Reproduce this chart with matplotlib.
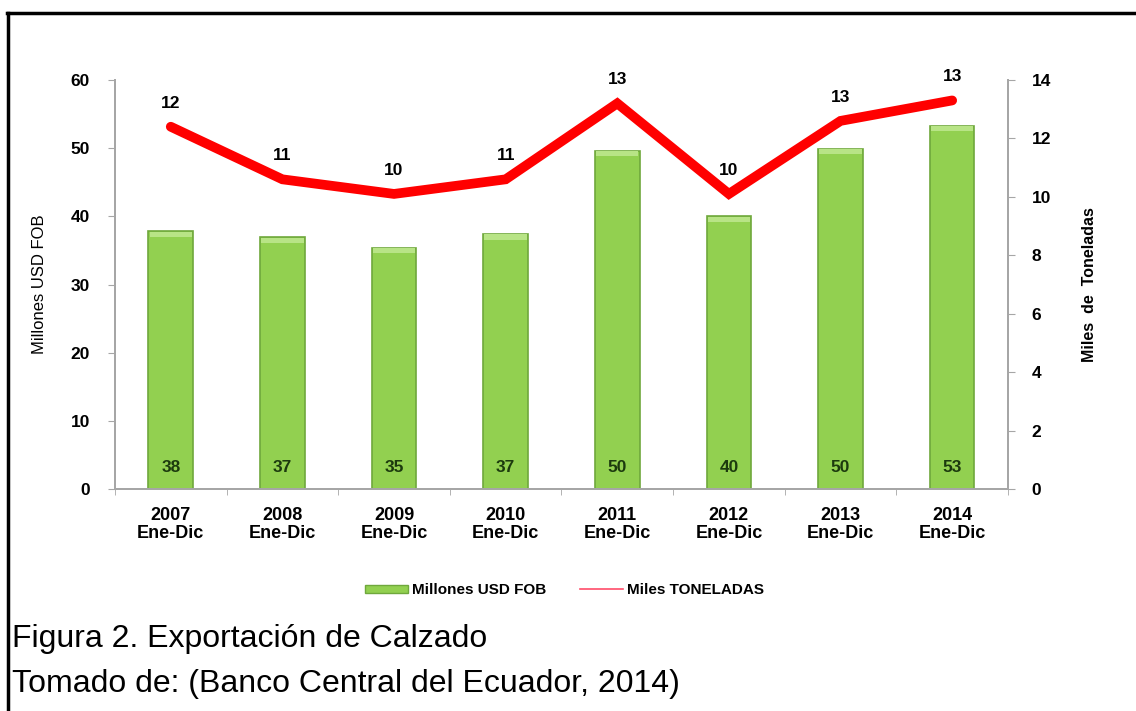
import matplotlib
matplotlib.use("Agg")
import matplotlib.pyplot as plt
from matplotlib.lines import Line2D
from matplotlib.patches import Patch
import numpy as np

plt.rcParams['font.family'] = ['Liberation Sans', 'DejaVu Sans']

# Data
years = ["2007", "2008", "2009", "2010", "2011", "2012", "2013", "2014"]
period = "Ene-Dic"
millones_usd_fob = [37.8, 36.9, 35.4, 37.4, 49.6, 40.0, 49.9, 53.3]
miles_toneladas = [12.4, 10.6, 10.1, 10.6, 13.2, 10.1, 12.6, 13.3]

fig = plt.figure(figsize=(11.36, 7.11), dpi=100)
fig.patch.set_facecolor("white")

ax = fig.add_axes([0.1012, 0.3122, 0.7861, 0.5753])
ax2 = ax.twinx()

x = np.arange(len(years))
grey = "#a6a6a6"

# Bars (left axis)
ax.bar(x, millones_usd_fob, width=0.40, color="#92d050",
       edgecolor="#6fa83c", linewidth=1.2, zorder=2)
for xi, v in zip(x, millones_usd_fob):
    # bevel highlight at the top of each bar
    ax.add_patch(plt.Rectangle((xi - 0.19, v - 0.8), 0.38, 0.75,
                               facecolor="#b8e486", edgecolor="none", zorder=3))
    ax.text(xi, 3.1, f"{v:.0f}", ha="center", va="center",
            fontsize=12.5, fontweight="bold", color="#1c3a0e", zorder=4)

ax.set_xlim(-0.5, len(years) - 0.5)
ax.set_ylim(0, 60)
ax.set_yticks(range(0, 61, 10))
ax.set_xticks(x)
ax.set_xticklabels([f"{y}\n{period}" for y in years], fontsize=13,
                   fontweight="bold", linespacing=1.1)
ax.set_xticks(np.arange(-0.5, len(years), 1.0), minor=True)
ax.tick_params(axis="x", which="major", length=0, pad=13)
ax.tick_params(axis="x", which="minor", length=4, color=grey, direction="out")
ax.tick_params(axis="y", length=5, color=grey, labelsize=12.5, pad=13)
for lbl in ax.get_yticklabels():
    lbl.set_fontweight("bold")
ax.set_ylabel("Millones USD FOB", fontsize=12, labelpad=17)

# Line (right axis)
ax2.plot(x, miles_toneladas, color="#ff0000", linewidth=7,
         solid_capstyle="round", solid_joinstyle="miter", zorder=5)
for xi, v in zip(x, miles_toneladas):
    ax2.annotate(f"{v:.0f}", (xi, v), xytext=(0, 17), textcoords="offset points",
                 ha="center", va="center", fontsize=12.5, fontweight="bold")
ax2.set_ylim(0, 14)
ax2.set_yticks(range(0, 15, 2))
ax2.tick_params(axis="y", length=5, color=grey, labelsize=12.5, pad=12)
for lbl in ax2.get_yticklabels():
    lbl.set_fontweight("bold")
ax2.set_ylabel("Miles  de  Toneladas", fontsize=11.5, fontweight="bold",
               labelpad=22)

for a in (ax, ax2):
    a.spines["top"].set_visible(False)
    for s in ("left", "right", "bottom"):
        a.spines[s].set_color(grey)
        a.spines[s].set_linewidth(1.3)

# Legend
handles = [Patch(facecolor="#92d050", edgecolor="#6fa83c"),
           Line2D([0], [0], color="#ff4d6a", linewidth=1.2)]
fig.legend(handles, ["Millones USD FOB", "Miles TONELADAS"],
           loc="center", bbox_to_anchor=(0.497, 0.170), ncol=2, frameon=False,
           prop={"size": 11, "weight": "bold"}, handlelength=2.8,
           handleheight=0.4, columnspacing=2.2, handletextpad=0.3)

# Frame lines and caption
fig.add_artist(Line2D([0.0070, 0.0070], [0.0, 0.9817], color="black",
                      linewidth=2.5, transform=fig.transFigure))
fig.add_artist(Line2D([0.0058, 1.0], [0.9817, 0.9817], color="black",
                      linewidth=2.5, transform=fig.transFigure))
fig.text(12, 711 - 647, "Figura 2. Exportación de Calzado", fontsize=23,
         transform=None, va="baseline")
fig.text(12, 711 - 692, "Tomado de: (Banco Central del Ecuador, 2014)",
         fontsize=23, transform=None, va="baseline")

fig.savefig("out.png", dpi=100, facecolor="white")
